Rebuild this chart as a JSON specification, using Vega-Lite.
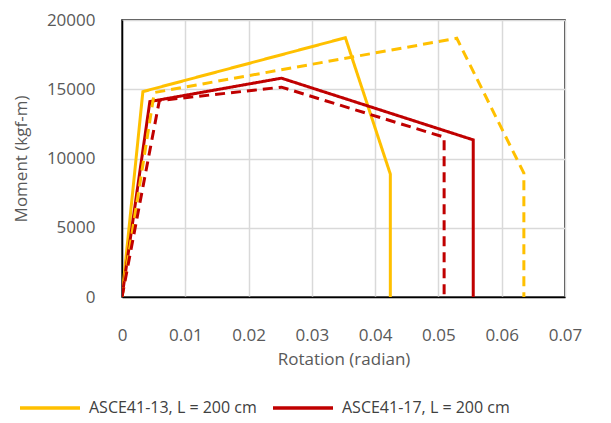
{
  "$schema": "https://vega.github.io/schema/vega-lite/v6.json",
  "autosize": {"type": "none"},
  "width": 443,
  "height": 277,
  "padding": {"left": 122, "top": 20, "right": 46, "bottom": 126},
  "background": "white",
  "config": {
    "font": "Open Sans",
    "view": {"stroke": "black", "strokeWidth": 1.5},
    "axis": {
      "labelFont": "Open Sans", "labelFontSize": 17, "labelColor": "#595959",
      "titleFont": "Open Sans", "titleFontSize": 17, "titleColor": "#595959", "titleFontWeight": "normal",
      "gridColor": "#D9D9D9", "gridWidth": 1.5, "ticks": false,
      "domainColor": "black", "domainWidth": 1.5
    },
    "legend": {"labelFont": "Open Sans", "labelFontSize": 16, "labelColor": "#404040"}
  },
  "data": {"values": [
    {"series": "ASCE41-13, L = 200 cm", "i": 0, "rot": 0, "m": 0},
    {"series": "ASCE41-13, L = 200 cm", "i": 1, "rot": 0.0033, "m": 14830},
    {"series": "ASCE41-13, L = 200 cm", "i": 2, "rot": 0.0353, "m": 18720},
    {"series": "ASCE41-13, L = 200 cm", "i": 3, "rot": 0.0424, "m": 8870},
    {"series": "ASCE41-13, L = 200 cm", "i": 4, "rot": 0.0424, "m": 0},
    {"series": "ASCE41-17, L = 200 cm", "i": 0, "rot": 0, "m": 0},
    {"series": "ASCE41-17, L = 200 cm", "i": 1, "rot": 0.0044, "m": 14110},
    {"series": "ASCE41-17, L = 200 cm", "i": 2, "rot": 0.0252, "m": 15800},
    {"series": "ASCE41-17, L = 200 cm", "i": 3, "rot": 0.0555, "m": 11345},
    {"series": "ASCE41-17, L = 200 cm", "i": 4, "rot": 0.0555, "m": 0},
    {"series": "ASCE41-13 (dashed)", "i": 0, "rot": 0, "m": 0},
    {"series": "ASCE41-13 (dashed)", "i": 1, "rot": 0.0051, "m": 14760},
    {"series": "ASCE41-13 (dashed)", "i": 2, "rot": 0.0529, "m": 18680},
    {"series": "ASCE41-13 (dashed)", "i": 3, "rot": 0.0635, "m": 8940},
    {"series": "ASCE41-13 (dashed)", "i": 4, "rot": 0.0635, "m": 0},
    {"series": "ASCE41-17 (dashed)", "i": 0, "rot": 0, "m": 0},
    {"series": "ASCE41-17 (dashed)", "i": 1, "rot": 0.0059, "m": 14180},
    {"series": "ASCE41-17 (dashed)", "i": 2, "rot": 0.0252, "m": 15150},
    {"series": "ASCE41-17 (dashed)", "i": 3, "rot": 0.0509, "m": 11540},
    {"series": "ASCE41-17 (dashed)", "i": 4, "rot": 0.0509, "m": 0}
  ]},
  "mark": {"type": "line", "strokeWidth": 3, "strokeJoin": "miter", "clip": true},
  "encoding": {
    "x": {"field": "rot", "type": "quantitative", "title": "Rotation (radian)",
      "scale": {"domain": [0, 0.07], "nice": false, "zero": true},
      "axis": {"values": [0, 0.01, 0.02, 0.03, 0.04, 0.05, 0.06, 0.07], "format": "~g", "labelPadding": 30, "titlePadding": 8, "labelFlush": false}},
    "y": {"field": "m", "type": "quantitative", "title": "Moment (kgf-m)",
      "scale": {"domain": [0, 20000], "nice": false},
      "axis": {"values": [0, 5000, 10000, 15000, 20000], "format": "d", "labelPadding": 27, "titlePadding": 16}},
    "order": {"field": "i", "type": "quantitative"},
    "color": {"field": "series", "type": "nominal",
      "scale": {"domain": ["ASCE41-13, L = 200 cm", "ASCE41-17, L = 200 cm", "ASCE41-13 (dashed)", "ASCE41-17 (dashed)"],
                "range": ["#FFC000", "#C00000", "#FFC000", "#C00000"]},
      "legend": {"title": null, "orient": "none", "legendX": -104, "legendY": 356, "direction": "horizontal", "columns": 2,
        "values": ["ASCE41-13, L = 200 cm", "ASCE41-17, L = 200 cm"],
        "symbolType": "stroke", "symbolSize": 3600, "symbolStrokeWidth": 3.5, "labelOffset": 7, "columnPadding": 9, "padding": 0, "labelLimit": 300}},
    "strokeDash": {"field": "series", "type": "nominal",
      "scale": {"domain": ["ASCE41-13, L = 200 cm", "ASCE41-17, L = 200 cm", "ASCE41-13 (dashed)", "ASCE41-17 (dashed)"],
                "range": [[1, 0], [1, 0], [10, 6], [10, 6]]},
      "legend": null}
  }
}
